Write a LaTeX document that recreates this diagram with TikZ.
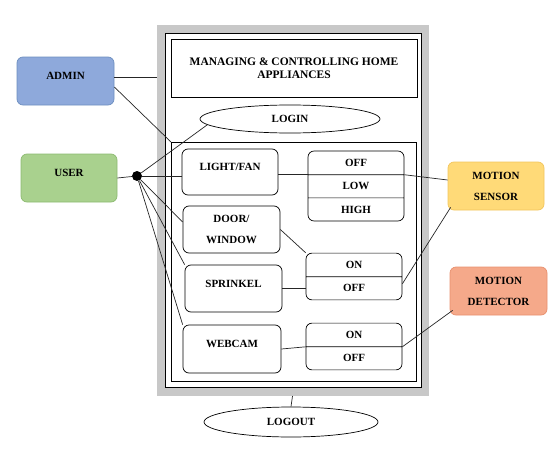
\documentclass[tikz,border=0pt]{standalone}
\usepackage{fontspec}
\setmainfont{Liberation Serif}
\usetikzlibrary{positioning,shapes.geometric,shapes.multipart}

\definecolor{adminfill}{HTML}{8EA9DB}
\definecolor{adminline}{HTML}{6C8EBF}
\definecolor{userfill}{HTML}{A9D18E}
\definecolor{userline}{HTML}{8CBA70}
\definecolor{sensorfill}{HTML}{FFDA78}
\definecolor{sensorline}{HTML}{F2C55C}
\definecolor{detectfill}{HTML}{F5A98A}
\definecolor{detectline}{HTML}{E8906E}
\definecolor{framegray}{HTML}{C8C8C8}

\begin{document}
\begin{tikzpicture}[x=1pt, y=-1pt]
    \tikzset{myline/.style={line width=0.7pt, black!85},
             boxtext/.style={font=\fontsize{11}{21}\selectfont\bfseries, align=center},
             appbox/.style={draw, boxtext, rounded corners=6pt, line width=0.7pt, inner sep=0pt},
             oneline/.style={text height=8pt, text depth=11pt},
             statebox/.style={draw, boxtext, rectangle split, rounded corners=6pt, line width=0.7pt,
                              inner ysep=7.5pt, text height=8pt, text depth=0pt, minimum width=96pt},
             oval/.style={draw, ellipse, boxtext, inner sep=0pt, line width=0.7pt}}

    \useasboundingbox (0,0) rectangle (560,450);

    % outer frame
    \draw node[fill=framegray, outer sep=0pt, minimum width=272pt, minimum height=371pt] (frame) at (292.5,210.5) {};
    \draw node[draw, fill=white, line width=0.8pt, outer sep=0pt, minimum width=256pt, minimum height=354pt] (inner) at (293,210) {};
    \draw node[draw, boxtext, font=\fontsize{11.5}{13}\selectfont\bfseries, line width=0.7pt, minimum width=246pt, minimum height=58pt] (title) at (294,68) {MANAGING \& CONTROLLING HOME\\APPLIANCES};
    \draw node[oval, minimum width=180pt, minimum height=28pt] (login) at (290,119) {LOGIN};
    \draw node[draw, line width=0.7pt, outer sep=0pt, minimum width=245pt, minimum height=239pt] (panel) at (293.5,261.5) {};

    % appliances
    \draw node[appbox, oneline, minimum width=96pt, minimum height=46pt] (lightfan) at (230,172) {LIGHT/FAN};
    \draw node[appbox, minimum width=97pt, minimum height=47pt] (doorwin) at (231.5,229.5) {DOOR/\\WINDOW};
    \draw node[appbox, oneline, minimum width=97pt, minimum height=47pt] (sprinkel) at (233.5,288.5) {SPRINKEL};
    \draw node[appbox, oneline, minimum width=98pt, minimum height=48pt] (webcam) at (232,349) {WEBCAM};

    % states
    \draw node[statebox, rectangle split parts=3] (fanstate) at (356,186) {OFF\nodepart{two}LOW\nodepart{three}HIGH};
    \draw node[statebox, rectangle split parts=2] (sprinkstate) at (354,276.5) {ON\nodepart{two}OFF};
    \draw node[statebox, rectangle split parts=2] (webstate) at (354,346.5) {ON\nodepart{two}OFF};

    \draw node[oval, minimum width=174pt, minimum height=30pt] (logout) at (291,422) {LOGOUT};

    % actors
    \draw node[appbox, oneline, fill=adminfill, draw=adminline, minimum width=97pt, minimum height=48pt] (admin) at (65.5,81) {ADMIN};
    \draw node[appbox, oneline, fill=userfill, draw=userline, minimum width=96pt, minimum height=48pt] (user) at (69,178) {USER};
    \draw node[circle, fill, inner sep=0pt, minimum size=10pt] (hub) at (137,176) {};
    \draw node[appbox, fill=sensorfill, draw=sensorline, minimum width=96pt, minimum height=48pt] (msensor) at (496,186) {MOTION\\SENSOR};
    \draw node[appbox, fill=detectfill, draw=detectline, minimum width=97pt, minimum height=48pt] (mdetector) at (498.5,291) {MOTION\\DETECTOR};

    \draw[myline] ([yshift=4pt]admin.east) -- ([yshift=4pt]admin.east -| frame.west);
    \draw[myline] ([yshift=-6pt]admin.east) -- (panel.north west);
    \draw[myline] (user.east) -- (hub);
    \draw[myline] (hub) -- (login.184);
    \draw[myline] (hub) -- (hub -| lightfan.west);
    \draw[myline] (hub) -- ([yshift=7.5pt]doorwin.west);
    \draw[myline] (hub) -- (sprinkel.north west);
    \draw[myline] (hub) -- (webcam.north west);

    \draw[myline] (fanstate.text split west -| lightfan.east) -- (fanstate.text split west);
    \draw[myline] (doorwin.east) -- (sprinkstate.north west);
    \draw[myline] (sprinkel.east) -- (sprinkel.east -| sprinkstate.west);
    \draw[myline] (webcam.east) -- (webstate.text split west);

    \draw[myline] (fanstate.text split east) -- ([yshift=6pt]msensor.west);
    \draw[myline] ([xshift=3pt, yshift=3pt]msensor.south west) -- ([yshift=-7pt]sprinkstate.text split east);
    \draw[myline] ([xshift=3pt, yshift=5pt]mdetector.south west) -- (webstate.text split east);

    \draw[myline] (frame.south) -- (logout.north);
  \end{tikzpicture}
\end{document}
